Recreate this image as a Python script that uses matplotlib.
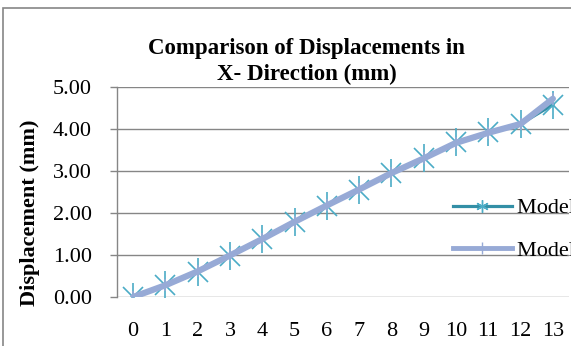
import numpy as np
import matplotlib.pyplot as plt
from matplotlib.lines import Line2D
from matplotlib.patches import Rectangle

# values
steps = list(range(14))
model_1 = [0.00, 0.29, 0.60, 0.98, 1.38, 1.79, 2.17, 2.55, 2.95, 3.31, 3.68, 3.92, 4.12, 4.58]
model_2 = [0.00, 0.28, 0.61, 0.99, 1.38, 1.79, 2.18, 2.56, 2.95, 3.30, 3.67, 3.91, 4.12, 4.72]
labels = ["Model 1", "Model 2"]
y_ticks = [0, 1, 2, 3, 4, 5]

c1_line = "#338fa6"
c1_mark = "#4bacc6"
c2_line = "#97aad6"
grid_c = "#868686"
fs = 16

plt.rcParams["font.family"] = ["Liberation Serif", "DejaVu Serif"]

W, H = 571, 346
fig = plt.figure(figsize=(W/100, H/100), dpi=100)
ax = fig.add_axes([117/W, 1-297/H, 452/W, 210/H])

# outer chart frame (cut off on the right and bottom)
fig.patches.append(Rectangle((3/W, -0.1), 1.2, 1-8/H+0.1, transform=fig.transFigure,
                             fill=False, edgecolor=grid_c, linewidth=1.2))

x = np.array(steps)
ax.plot(x, model_1, color=c1_line, lw=2.3, zorder=3)
ax.plot(x, model_1, ls="none", marker="x", ms=14, mew=1.2, color=c1_mark, zorder=3)
ax.plot(x, model_1, ls="none", marker="|", ms=20, mew=1.2, color=c1_mark, zorder=3)
ax.plot(x, model_2, color=c2_line, lw=4.5, solid_capstyle="round", zorder=4)
ax.plot(x, model_2, ls="none", marker="|", ms=9, mew=1.2, color=c2_line, zorder=4)

ax.set_xlim(-0.5, 13.5)
ax.set_ylim(0, 5)
ax.set_xticks(x)
ax.set_xticklabels([str(s) for s in steps])
ax.set_yticks(y_ticks)
ax.set_yticklabels(["%.2f" % v for v in y_ticks])
ax.tick_params(axis="x", length=0, pad=18, labelsize=fs)
ax.tick_params(axis="y", length=5, width=1, color=grid_c, pad=13, labelsize=fs)
ax.grid(axis="y", color=grid_c, lw=1)
ax.set_axisbelow(True)
for s in ["top", "right", "bottom"]:
    ax.spines[s].set_visible(False)
ax.spines["left"].set_color(grid_c)
ax.spines["left"].set_linewidth(1)

fig.text(30/W, 1-213/H, "Displacement (mm)", rotation=90, ha="center", va="center",
         fontsize=fs, fontweight="bold")
fig.text(306.5/W, 1-54/H, "Comparison of Displacements in", ha="center", va="baseline",
         fontsize=16.5, fontweight="bold")
fig.text(306.5/W, 1-80/H, "X- Direction (mm)", ha="center", va="baseline",
         fontsize=16.5, fontweight="bold")

h1 = Line2D([], [], color=c1_line, lw=2.3, marker=(6, 2, 0), ms=9, mew=1, mec=c1_mark)
h2 = Line2D([], [], color=c2_line, lw=3.5, marker="|", ms=9, mew=1)
fig.legend([h1, h2], labels, loc="center left", bbox_to_anchor=(453/W, 1-229.5/H),
           frameon=False, fontsize=fs, handlelength=2.65, handletextpad=0.23,
           labelspacing=1.0, borderaxespad=0, borderpad=0)

fig.savefig("out.png", dpi=100)
